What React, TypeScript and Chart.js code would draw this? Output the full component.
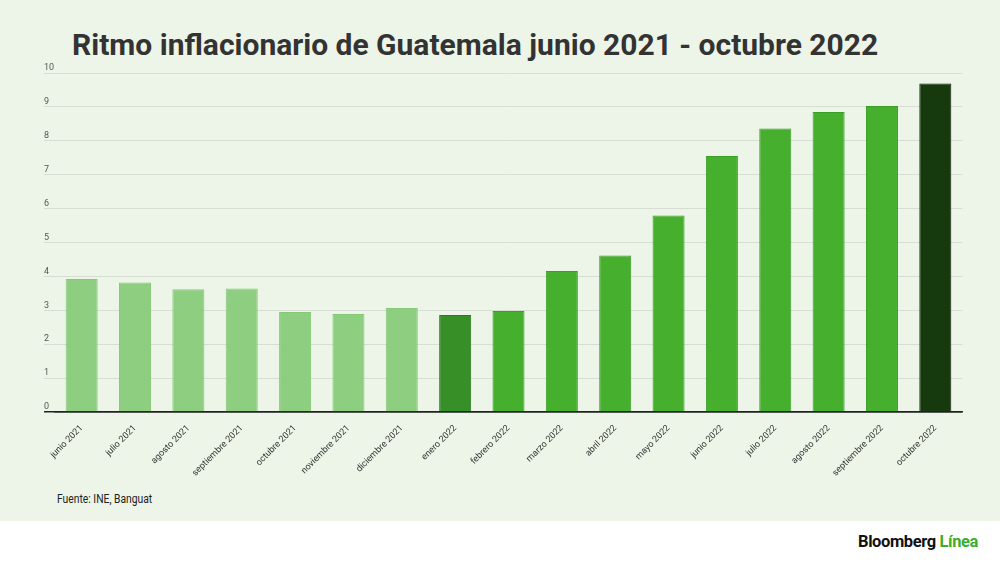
import React, { useEffect, useRef } from "react";
import { Chart, registerables } from "chart.js";

Chart.register(...registerables);

const categories = [
  "junio 2021", "julio 2021", "agosto 2021", "septiembre 2021", "octubre 2021",
  "noviembre 2021", "diciembre 2021", "enero 2022", "febrero 2022", "marzo 2022",
  "abril 2022", "mayo 2022", "junio 2022", "julio 2022", "agosto 2022",
  "septiembre 2022", "octubre 2022",
];
const inflation = [3.92, 3.82, 3.62, 3.64, 2.95, 2.89, 3.07, 2.86, 2.98, 4.16, 4.62, 5.8, 7.55, 8.36, 8.85, 9.03, 9.69];
const yTicks = [0, 1, 2, 3, 4, 5, 6, 7, 8, 9, 10];

const title = "Ritmo inflacionario de Guatemala junio 2021 - octubre 2022";
const source = "Fuente: INE, Banguat";

function fillFor(i: number): string {
  const label = categories[i];
  if (i === categories.length - 1) return "#163A0E";
  if (label === "enero 2022") return "#378F28";
  if (label.endsWith("2021")) return "#8ECE80";
  return "#46AF2E";
}
function borderFor(i: number): string {
  const label = categories[i];
  if (i === categories.length - 1) return "#0a1a06";
  if (label === "enero 2022") return "#2C7A20";
  if (label.endsWith("2021")) return "#86C878";
  return "#3A9E27";
}

export default function App() {
  const ref = useRef<HTMLCanvasElement>(null);
  useEffect(() => {
    document.body.style.margin = "0";
    const chart = new Chart(ref.current!, {
      type: "bar",
      data: {
        labels: categories,
        datasets: [
          {
            data: inflation,
            backgroundColor: (c: any) => fillFor(c.dataIndex),
            borderColor: (c: any) => borderFor(c.dataIndex),
            borderWidth: 1,
            categoryPercentage: 1,
            barPercentage: 0.6,
          },
        ],
      },
      options: {
        animation: false,
        responsive: false,
        maintainAspectRatio: false,
        layout: { padding: { left: 44, right: 38, top: 13, bottom: 0 } },
        plugins: { legend: { display: false }, tooltip: { enabled: false } },
        scales: {
          x: {
            grid: { display: false },
            border: { display: true, color: "#222", width: 1.5 },
            ticks: {
              maxRotation: 45,
              minRotation: 45,
              autoSkip: false,
              color: "#333",
              font: { family: "Roboto", size: 9 },
              padding: 3,
            },
            afterFit: (s: any) => { s.height = 68; },
          },
          y: {
            min: 0,
            max: 10,
            afterBuildTicks: (s: any) => { s.ticks = yTicks.map((v) => ({ value: v })); },
            border: { display: false },
            grid: {
              color: (c: any) => (c.tick && c.tick.value === 0 ? "#222" : "#D6DDD3"),
              lineWidth: (c: any) => (c.tick && c.tick.value === 0 ? 1.5 : 1),
              tickLength: 11,
              drawTicks: true,
            },
            ticks: {
              crossAlign: "far",
              labelOffset: -5,
              color: "#555",
              font: { family: "Roboto", size: 9 },
            },
            afterFit: (s: any) => { s.width = 11; },
          },
        },
      },
    } as any);
    return () => chart.destroy();
  }, []);

  return (
    <div style={{ position: "absolute", left: 0, top: 0, width: 1000, height: 562, background: "#fff", overflow: "hidden" }}>
      <div style={{ position: "absolute", left: 0, top: 0, width: 1000, height: 521, background: "#EDF5E9" }}>
        <div
          style={{
            position: "absolute",
            left: 72,
            top: 27,
            fontFamily: "Roboto",
            fontWeight: 700,
            fontSize: 30,
            color: "#333",
            whiteSpace: "nowrap",
            lineHeight: "36px",
          }}
        >
          {title}
        </div>
        <canvas ref={ref} width={1000} height={420} style={{ position: "absolute", left: 0, top: 60, width: 1000, height: 420 }} />
        <div
          style={{
            position: "absolute",
            left: 57,
            top: 492,
            fontFamily: "Roboto",
            fontSize: 12,
            color: "#222",
            whiteSpace: "nowrap",
            transform: "scaleX(0.86)",
            transformOrigin: "left center",
          }}
        >
          {source}
        </div>
      </div>
      <div
        style={{
          position: "absolute",
          left: 858,
          top: 531,
          fontFamily: "Roboto",
          fontWeight: 700,
          fontSize: 17,
          whiteSpace: "nowrap",
          lineHeight: "20px",
          letterSpacing: -0.4,
          transform: "scaleX(0.97)",
          transformOrigin: "left center",
        }}
      >
        <span style={{ color: "#111" }}>Bloomberg</span>{" "}
        <span style={{ color: "#3DAE2B" }}>Línea</span>
      </div>
    </div>
  );
}
